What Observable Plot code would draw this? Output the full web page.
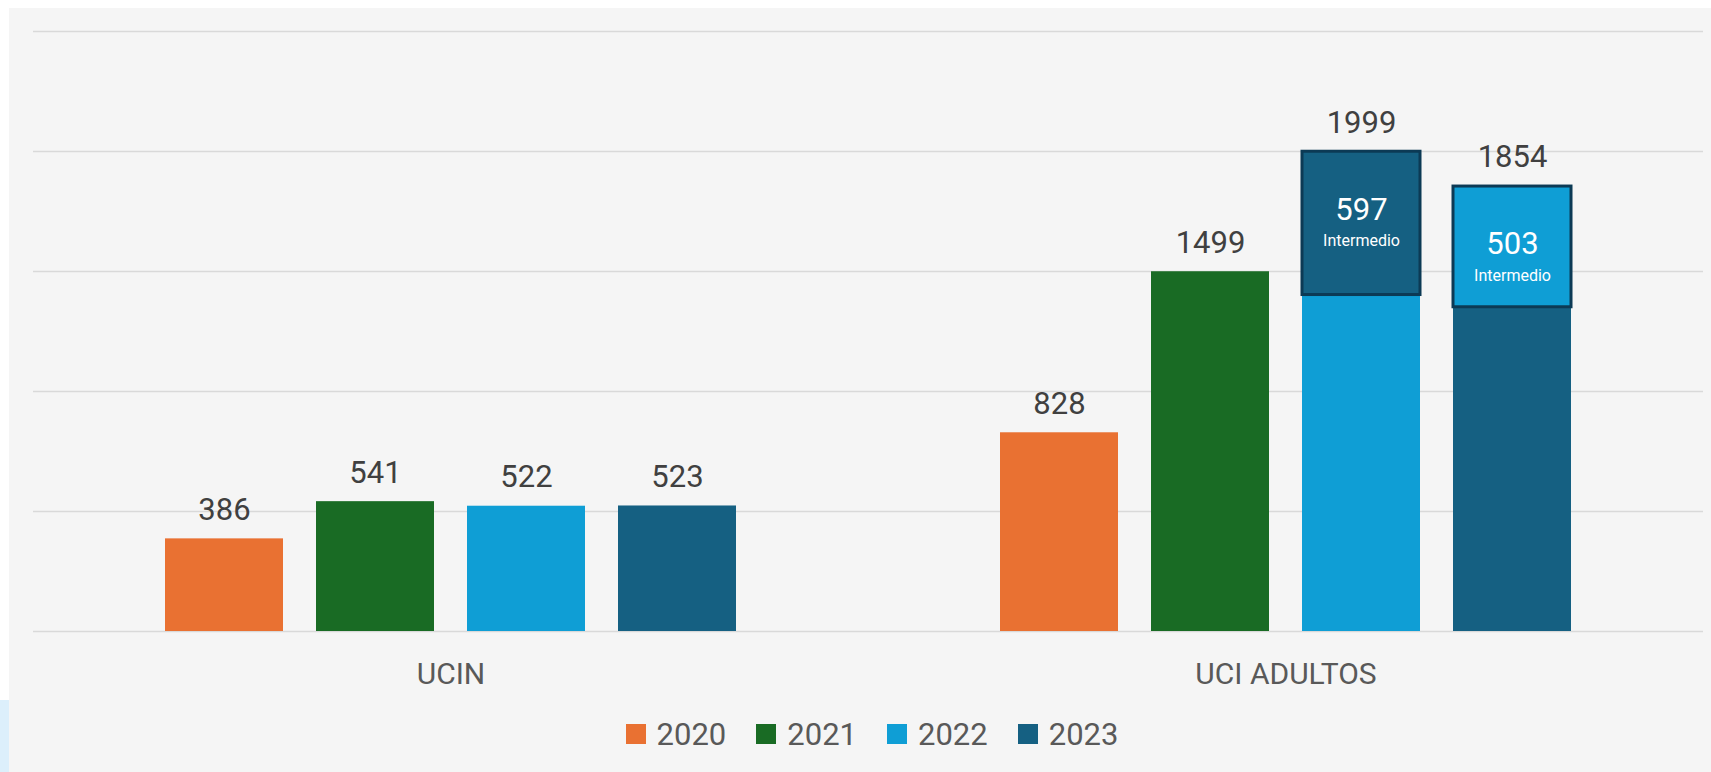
<!DOCTYPE html>
<html><head><meta charset="utf-8">
<script src="https://cdn.jsdelivr.net/npm/d3@7"></script>
<script src="https://cdn.jsdelivr.net/npm/@observablehq/plot@0.6"></script>
<style>
html,body{margin:0;padding:0;width:1711px;height:772px;overflow:hidden;background:#fff;}
#frame{position:absolute;left:9px;top:8px;width:1702px;height:764px;background:#f5f5f5;font-family:Roboto,"Liberation Sans",sans-serif;}
#deco{position:absolute;left:0;top:700px;width:9px;height:72px;background:#dceffb;}
#legend{display:flex;justify-content:center;align-items:center;height:52px;padding-left:24px;}
.item{display:flex;align-items:center;margin:0 15px;}
.sw{width:20px;height:20px;margin-right:11px;}
.lt{font-size:31px;color:#595959;line-height:1;}
</style></head><body>
<div id="deco"></div>
<div id="frame"><div id="chart"></div><div id="legend"></div></div>
<script>
const categories = ["UCIN", "UCI ADULTOS"];
const years = ["2020", "2021", "2022", "2023"];
const ucinValues = [386, 541, 522, 523];
const uciAdultosValues = [828, 1499, 1999, 1854];
const intermedioYears = ["2022", "2023"];
const intermedioValues = [597, 503];
const intermedioLabel = "Intermedio";
const yTicks = [0, 500, 1000, 1500, 2000, 2500];
const palette = ["#E97132", "#196B24", "#0F9ED5", "#156082"];

const totals = [];
categories.forEach((c, i) => {
  const vals = i === 0 ? ucinValues : uciAdultosValues;
  years.forEach((y, j) => totals.push({category: c, year: y, value: vals[j]}));
});
const intermedio = intermedioYears.map((y, k) => {
  const t = totals.find(d => d.category === "UCI ADULTOS" && d.year === y);
  return {category: "UCI ADULTOS", year: y, total: t.value, value: intermedioValues[k],
          fillYear: y === "2022" ? "2023" : "2022"};
});
const bases = totals.map(d => {
  const m = intermedio.find(e => e.category === d.category && e.year === d.year);
  return {...d, base: m ? d.value - m.value : d.value};
});

const chart = Plot.plot({
  width: 1702, height: 700,
  marginLeft: 23, marginRight: 8, marginTop: 23, marginBottom: 77,
  style: {background: "transparent", fontFamily: "Roboto, 'Liberation Sans', sans-serif", overflow: "visible"},
  fx: {domain: categories, padding: 0, label: null},
  x: {domain: years, paddingInner: 0.2156, paddingOuter: 0.862, axis: null},
  y: {domain: [0, 2500], axis: null},
  color: {domain: years, range: palette},
  marks: [
    Plot.ruleY(yTicks, {stroke: "#d9d9d9", strokeWidth: 1.5}),
    Plot.barY(bases, {fx: "category", x: "year", y1: 0, y2: "base", fill: "year"}),
    Plot.barY(intermedio, {fx: "category", x: "year", y1: d => d.total - d.value, y2: "total", fill: "fillYear", stroke: "#0C3A55", strokeWidth: 3}),
    Plot.text(totals, {fx: "category", x: "year", y: "value", text: d => String(d.value), dy: -29, fontSize: 31, fill: "#404040"}),
    Plot.text(intermedio, {fx: "category", x: "year", y: "total", text: d => String(d.value), dy: 58, fontSize: 31, fill: "#ffffff"}),
    Plot.text(intermedio, {fx: "category", x: "year", y: "total", text: () => intermedioLabel, dy: 89, fontSize: 16, fill: "#ffffff"}),
    Plot.axisFx({anchor: "bottom", tickSize: 0, tickPadding: 31, fontSize: 30, color: "#595959", label: null})
  ]
});
document.getElementById("chart").appendChild(chart);

const legend = document.getElementById("legend");
years.forEach((y, i) => {
  const it = document.createElement("div"); it.className = "item";
  const sw = document.createElement("div"); sw.className = "sw"; sw.style.background = palette[i];
  const lt = document.createElement("span"); lt.className = "lt"; lt.textContent = y;
  it.appendChild(sw); it.appendChild(lt); legend.appendChild(it);
});
</script>
</body></html>
